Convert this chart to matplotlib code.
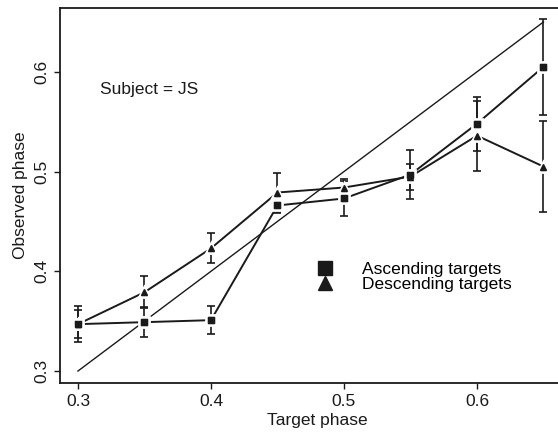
"""Observed vs target phase, subject JS, ascending and descending targets."""
import matplotlib
matplotlib.use("Agg")
import matplotlib.pyplot as plt
from matplotlib.lines import Line2D

plt.rcParams["font.family"] = ["Liberation Sans", "DejaVu Sans"]

target = [0.30, 0.35, 0.40, 0.45, 0.50, 0.55, 0.60, 0.65]
asc = [0.347, 0.349, 0.351, 0.466, 0.473, 0.497, 0.548, 0.605]
asc_err = [0.014, 0.015, 0.014, 0.008, 0.018, 0.025, 0.027, 0.048]
desc = [0.347, 0.379, 0.423, 0.479, 0.484, 0.495, 0.536, 0.505]
desc_err = [0.018, 0.016, 0.015, 0.020, 0.009, 0.013, 0.035, 0.046]
ident = [0.30, 0.65]

ink = "#1a1a1a"
fs = 12.5

fig = plt.figure(figsize=(5.58, 4.36), dpi=100)
ax = fig.add_axes([60 / 558, 1 - 383 / 436, 515 / 558, 375 / 436])
ax.set_xlim(0.2865, 0.6737)
ax.set_ylim(0.288, 0.664)

# identity line
ax.plot(ident, ident, color=ink, lw=1.0)

for y, e, m in [(asc, asc_err, "s"), (desc, desc_err, "^")]:
    ax.errorbar(target, y, yerr=e, fmt="none", ecolor=ink, elinewidth=1.2,
                capsize=3.2, capthick=1.2)
    ax.plot(target, y, "-", color=ink, lw=1.4)
    # white edge leaves the small gaps round each point, as in R type="b"
    ax.plot(target, y, m, ls="none", color=ink, ms=6.5, mec="white", mew=2,
            zorder=4)
    ax.plot(target, y, m, ls="none", color=ink, ms=4.3, zorder=5)

ax.set_xticks([0.3, 0.4, 0.5, 0.6])
ax.set_yticks([0.3, 0.4, 0.5, 0.6])
ax.set_xticklabels(["0.3", "0.4", "0.5", "0.6"])
ax.set_yticklabels(["0.3", "0.4", "0.5", "0.6"], rotation=90, va="center")
ax.tick_params(direction="out", length=4, width=1, colors=ink, labelsize=fs,
               pad=4)
for s in ax.spines.values():
    s.set_color(ink)
    s.set_linewidth(1.3)

ax.set_xlabel("Target phase", fontsize=fs, color=ink, labelpad=3)
ax.set_ylabel("Observed phase", fontsize=fs, color=ink, labelpad=4)

ax.text(0.3165, 0.582, "Subject = JS", fontsize=fs, color=ink, va="center")

handles = [Line2D([], [], marker="s", ls="none", color=ink, ms=9.5),
           Line2D([], [], marker="^", ls="none", color=ink, ms=9.5)]
ax.legend(handles, ["Ascending targets", "Descending targets"],
          loc="center left", bbox_to_anchor=((308 - 60) / 515, 1 - (277 - 8) / 375),
          frameon=False, fontsize=fs, handletextpad=1.6, labelspacing=0.0,
          borderpad=0, handlelength=1.0)

fig.savefig("out.png", dpi=100)
